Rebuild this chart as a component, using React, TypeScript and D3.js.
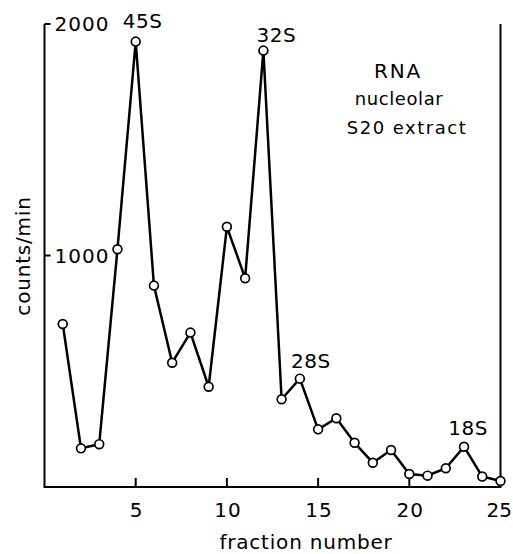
import React from "react";
import * as d3 from "d3";

const fractions = [1,2,3,4,5,6,7,8,9,10,11,12,13,14,15,16,17,18,19,20,21,22,23,24,25];
const counts = [704,167,185,1027,1924,870,537,667,433,1124,902,1885,379,468,249,297,191,105,160,56,49,81,174,45,26];
const xTicks = [5,10,15,20,25];
const yTicks = [1000,2000];
const peakLabels = [
  { text: "45S", fraction: 5, dx: 7, dy: -14 },
  { text: "32S", fraction: 12, dx: 13, dy: -9 },
  { text: "28S", fraction: 14, dx: 11, dy: -11 },
  { text: "18S", fraction: 23, dx: 4, dy: -12 },
];
const legendLines = ["RNA", "nucleolar", "S20 extract"];

export default function App() {
  const W = 513, H = 554;
  const x = d3.scaleLinear().domain([0, 25]).range([44.5, 500.5]);
  const y = d3.scaleLinear().domain([0, 2000]).range([487, 24]);
  const line = d3.line<number>().x((_, i) => x(fractions[i])).y((d) => y(d));
  const font = "DejaVu Sans, sans-serif";
  return (
    <svg width={W} height={H} style={{ position: "absolute", left: 0, top: 0, background: "#fff" }}>
      <g fill="none" stroke="#000" strokeWidth={2}>
        <path d={`M${x(0)},${y(2000)}V${y(0)}H${x(25)}V${y(2000)}`} />
        {yTicks.map((t) => (
          <line key={t} x1={x(0)} x2={x(0) + 6} y1={y(t)} y2={y(t)} />
        ))}
        {xTicks.filter((t) => t < 25).map((t) => (
          <line key={t} x1={x(t)} x2={x(t)} y1={y(0)} y2={y(0) - 9} />
        ))}
      </g>
      <g fontFamily={font} fontSize={20} fill="#000">
        {yTicks.map((t) => (
          <text key={t} x={x(0) + 10} y={y(t)} dy="0.36em" letterSpacing={1}>{t}</text>
        ))}
        {xTicks.map((t) => (
          t < 25 ? (
            <text key={t} x={x(t) + 1} y={517} textAnchor="middle" letterSpacing={1}>{t}</text>
          ) : (
            <text key={t} x={W - 1} y={517} textAnchor="end" letterSpacing={0}>{t}</text>
          )
        ))}
        <text x={306} y={549} textAnchor="middle" fontSize={20} letterSpacing={0.8}>fraction number</text>
        <text transform="translate(30,256) rotate(-90)" textAnchor="middle" fontSize={20} letterSpacing={0.8}>counts/min</text>
        {peakLabels.map((p) => (
          <text key={p.text} x={x(p.fraction) + p.dx} y={y(counts[p.fraction - 1]) + p.dy} textAnchor="middle" letterSpacing={0.5}>{p.text}</text>
        ))}
        <text x={398} y={78} textAnchor="middle" letterSpacing={1.8}>{legendLines[0]}</text>
        <text x={399} y={105} textAnchor="middle" fontSize={18} letterSpacing={0.6}>{legendLines[1]}</text>
        <text x={407} y={134} textAnchor="middle" fontSize={18} letterSpacing={1.5}>{legendLines[2]}</text>
      </g>
      <path d={line(counts) || ""} fill="none" stroke="#000" strokeWidth={2.5} strokeLinejoin="round" />
      <g fill="#fff" stroke="#000" strokeWidth={1.7}>
        {counts.map((c, i) => (
          <circle key={i} cx={x(fractions[i])} cy={y(c)} r={4.4} />
        ))}
      </g>
    </svg>
  );
}
